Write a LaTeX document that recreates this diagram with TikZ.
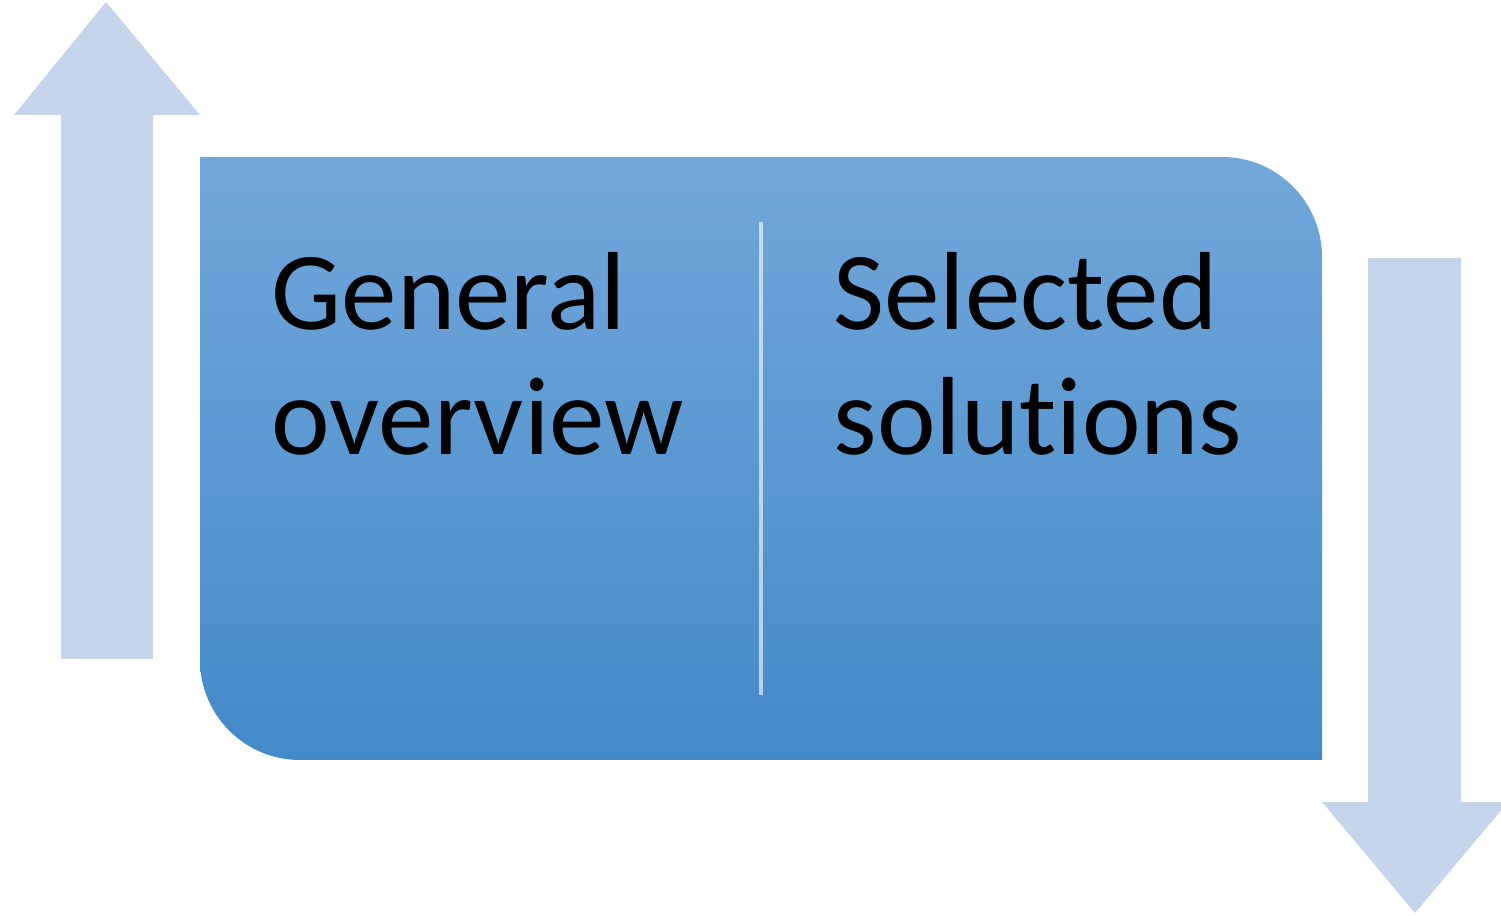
\documentclass[tikz,border=0pt]{standalone}
\usepackage{fontspec}
\setmainfont{Carlito}[Ligatures={NoCommon}]
\usetikzlibrary{positioning}

\definecolor{arrowblue}{HTML}{C5D5EB}
\definecolor{boxtop}{HTML}{72A7DB}
\definecolor{boxbottom}{HTML}{438AC8}

\tikzset{
  label text/.style={anchor=base west, inner sep=0pt, align=left,
    font=\fontsize{31.6pt}{35.6pt}\selectfont}
}

\begin{document}
\begin{tikzpicture}

% Manually size the picture
\useasboundingbox (0, 0) rectangle (15.01, 9.15);

% Up arrow
\fill[arrowblue] (0.61, 2.56) -- (1.53, 2.56) -- (1.53, 8.00) -- (2.00, 8.00)
  -- (1.06, 9.13) -- (0.14, 8.00) -- (0.61, 8.00) -- cycle;

% Down arrow
\fill[arrowblue] (13.68, 6.57) -- (14.61, 6.57) -- (14.61, 1.13) -- (15.08, 1.13)
  -- (14.15, 0.02) -- (13.22, 1.13) -- (13.68, 1.13) -- cycle;

% Box
\shade[top color=boxtop, bottom color=boxbottom]
  (2.00, 7.58) -- (12.22, 7.58) arc[start angle=90, end angle=0, radius=1]
  -- (13.22, 1.55) -- (3.00, 1.55) arc[start angle=270, end angle=180, radius=1]
  -- cycle;

% Divider
\draw[white, opacity=0.6, line width=1.2pt] (7.61, 6.93) -- (7.61, 2.20);

% Labels
\node[label text] (overview) at (2.71, 4.60) {General\\overview};
\node[label text] (solutions) at (8.33, 4.60) {Selected\\solutions};

\end{tikzpicture}
\end{document}
